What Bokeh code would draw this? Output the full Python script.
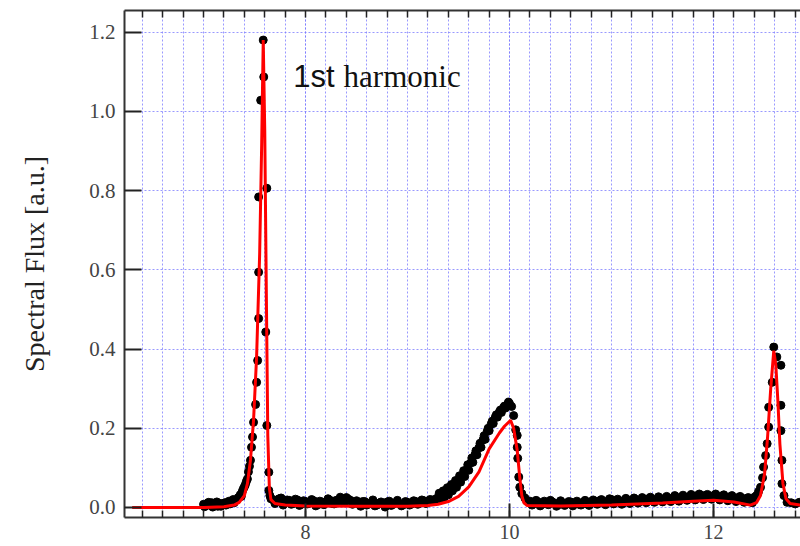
from bokeh.plotting import figure
from bokeh.models import Range1d, LinearAxis, SingleIntervalTicker, FixedTicker, NumeralTickFormatter, Label
from bokeh.embed import file_html
from bokeh.resources import INLINE

# ---- measured data points (black dots) ----
dots_x = [
    7.00, 7.02, 7.04, 7.06, 7.08, 7.10, 7.12, 7.14, 7.16, 7.18, 7.20, 7.22, 7.24, 7.26, 7.28, 7.30,
    7.32, 7.34, 7.36, 7.37, 7.38, 7.39, 7.40, 7.41, 7.42, 7.43, 7.44, 7.45, 7.46, 7.47, 7.48, 7.49,
    7.51, 7.52, 7.53, 7.54, 7.54, 7.54, 7.56, 7.585, 7.59,
    7.62, 7.61, 7.62, 7.64, 7.64, 7.65, 7.66,
    7.68, 7.72, 7.76, 7.80, 7.84, 7.88, 7.92, 7.96, 8.00, 8.04, 8.08, 8.12, 8.16, 8.20, 8.24, 8.28,
    8.32, 8.36, 8.40, 8.44, 8.48, 8.52, 8.56, 8.60, 8.64, 8.68, 8.72, 8.76, 8.80, 8.84, 8.88, 8.92,
    8.96, 9.00, 9.04, 9.08, 9.12, 9.16, 9.20, 9.24, 9.28,
    9.30, 9.32, 9.34, 9.36, 9.38, 9.40, 9.42, 9.44, 9.46, 9.48, 9.50, 9.52, 9.54, 9.56, 9.58, 9.60,
    9.62, 9.64, 9.66, 9.68, 9.70, 9.72, 9.74, 9.76, 9.78, 9.80, 9.82, 9.84, 9.86, 9.88, 9.90, 9.92,
    9.94, 9.96, 9.98, 10.00,
    10.02, 10.04, 10.06, 10.075, 10.075, 10.08, 10.09, 10.10, 10.12, 10.15, 10.17,
    10.20, 10.24, 10.28, 10.32, 10.36, 10.40, 10.44, 10.48, 10.52, 10.56, 10.60, 10.64, 10.68, 10.72,
    10.76, 10.80, 10.84, 10.88, 10.92, 10.96, 11.00, 11.04, 11.08, 11.12, 11.16, 11.20, 11.24, 11.28,
    11.32, 11.36, 11.40, 11.44, 11.48, 11.52, 11.56, 11.60, 11.64, 11.68, 11.72, 11.76, 11.80, 11.84,
    11.88, 11.92, 11.96, 12.00, 12.04, 12.08, 12.12, 12.16, 12.20, 12.24, 12.28, 12.32, 12.36, 12.40,
    12.42, 12.44, 12.46, 12.48, 12.49, 12.51, 12.525, 12.54, 12.54, 12.575, 12.59, 12.62, 12.66, 12.66,
    12.66, 12.67, 12.67, 12.69, 12.72, 12.76, 12.80, 12.84,
]
dots_y = [
    0.008, 0.004, 0.011, 0.006, 0.012, 0.005, 0.009, 0.003, 0.010, 0.007, 0.011, 0.006, 0.013, 0.009, 0.015, 0.012,
    0.019, 0.025, 0.032, 0.028, 0.041, 0.047, 0.052, 0.058, 0.066, 0.072, 0.090, 0.104, 0.119, 0.152, 0.178, 0.215,
    0.260, 0.316, 0.371, 0.477, 0.594, 0.784, 1.028, 1.180, 1.087,
    0.806, 0.443, 0.207, 0.089, 0.043, 0.030, 0.022,
    0.020, 0.016, 0.024, 0.012, 0.018, 0.010, 0.019, 0.008, 0.015, 0.011, 0.017, 0.007, 0.014, 0.012, 0.018, 0.009,
    0.015, 0.020, 0.025, 0.018, 0.013, 0.009, 0.015, 0.006, 0.012, 0.004, 0.011, 0.008, 0.014, 0.005, 0.012, 0.010,
    0.007, 0.013, 0.009, 0.015, 0.011, 0.017, 0.013, 0.019, 0.022,
    0.026, 0.022, 0.029, 0.026, 0.037, 0.032, 0.045, 0.042, 0.055, 0.051, 0.067, 0.064, 0.079, 0.078, 0.095, 0.094,
    0.113, 0.114, 0.133, 0.133, 0.151, 0.152, 0.171, 0.172, 0.192, 0.194, 0.211, 0.212, 0.228, 0.228, 0.241, 0.240,
    0.252, 0.251, 0.260, 0.262,
    0.255, 0.232, 0.196, 0.182, 0.152, 0.124, 0.077, 0.051, 0.035, 0.024, 0.016,
    0.016, 0.010, 0.014, 0.008, 0.013, 0.018, 0.011, 0.007, 0.012, 0.009, 0.014, 0.010, 0.008, 0.013,
    0.009, 0.015, 0.011, 0.017, 0.012, 0.016, 0.020, 0.013, 0.017, 0.012, 0.018, 0.014, 0.020, 0.015,
    0.019, 0.022, 0.016, 0.021, 0.018, 0.023, 0.019, 0.024, 0.020, 0.026, 0.022, 0.027, 0.024, 0.030,
    0.026, 0.031, 0.027, 0.030, 0.026, 0.029, 0.024, 0.027, 0.022, 0.025, 0.020, 0.023, 0.019, 0.026,
    0.030, 0.040, 0.051, 0.075, 0.102, 0.131, 0.161, 0.203, 0.253, 0.316, 0.405, 0.380, 0.359, 0.258,
    0.194, 0.119, 0.060, 0.030, 0.013, 0.012, 0.009, 0.013,
]
# second scan of dots in between (makes the noisy band thicker)
dots2_x = [
    7.01, 7.05, 7.09, 7.13, 7.17, 7.21, 7.25, 7.29,
    7.70, 7.74, 7.78, 7.82, 7.86, 7.90, 7.94, 7.98, 8.02, 8.06, 8.10, 8.14, 8.18, 8.22, 8.26, 8.30,
    8.34, 8.38, 8.42, 8.46, 8.50, 8.54, 8.58, 8.62, 8.66, 8.70, 8.74, 8.78, 8.82, 8.86, 8.90, 8.94,
    8.98, 9.02, 9.06, 9.10, 9.14, 9.18, 9.22, 9.26,
    9.31, 9.35, 9.39, 9.43, 9.47, 9.51, 9.55, 9.59, 9.63, 9.67, 9.71, 9.75, 9.79, 9.83, 9.87, 9.91,
    9.95, 9.99,
    10.22, 10.26, 10.30, 10.34, 10.38, 10.42, 10.46, 10.50, 10.54, 10.58, 10.62, 10.66, 10.70, 10.74,
    10.78, 10.82, 10.86, 10.90, 10.94, 10.98, 11.02, 11.06, 11.10, 11.14, 11.18, 11.22, 11.26, 11.30,
    11.34, 11.38, 11.42, 11.46, 11.50, 11.54, 11.58, 11.62, 11.66, 11.70, 11.74, 11.78, 11.82, 11.86,
    11.90, 11.94, 11.98, 12.02, 12.06, 12.10, 12.14, 12.18, 12.22, 12.26, 12.30, 12.34, 12.38,
]
dots2_y = [
    0.002, 0.013, 0.001, 0.014, 0.003, 0.012, 0.016, 0.020,
    0.010, 0.022, 0.006, 0.019, 0.008, 0.021, 0.005, 0.017, 0.009, 0.020, 0.004, 0.016, 0.007, 0.022, 0.010, 0.018,
    0.026, 0.013, 0.021, 0.008, 0.017, 0.003, 0.015, 0.009, 0.019, 0.006, 0.014, 0.001, 0.016, 0.008, 0.018, 0.004,
    0.015, 0.006, 0.017, 0.008, 0.019, 0.010, 0.020, 0.016,
    0.036, 0.042, 0.050, 0.058, 0.068, 0.080, 0.093, 0.108, 0.125, 0.143, 0.162, 0.181, 0.200, 0.218, 0.234, 0.246,
    0.256, 0.266,
    0.006, 0.018, 0.004, 0.016, 0.007, 0.014, 0.003, 0.017, 0.005, 0.015, 0.004, 0.016, 0.006, 0.018,
    0.005, 0.019, 0.008, 0.020, 0.007, 0.022, 0.009, 0.021, 0.008, 0.023, 0.010, 0.024, 0.011, 0.025,
    0.012, 0.026, 0.013, 0.027, 0.014, 0.028, 0.015, 0.030, 0.016, 0.031, 0.018, 0.033, 0.019, 0.034,
    0.020, 0.033, 0.021, 0.034, 0.019, 0.032, 0.017, 0.030, 0.015, 0.028, 0.013, 0.025, 0.012,
]

# ---- fit curve (red line) ----
fit_x = [
    6.30, 7.00, 7.20, 7.30, 7.35, 7.40, 7.43, 7.46, 7.49, 7.52, 7.55, 7.57, 7.585, 7.60, 7.615, 7.63,
    7.645, 7.66, 7.70, 7.80, 8.00, 8.50, 9.00, 9.20, 9.30, 9.40, 9.50, 9.60, 9.70, 9.80, 9.90, 9.95,
    10.01, 10.04, 10.075, 10.10, 10.12, 10.14, 10.17, 10.50, 11.00, 11.50, 11.80, 12.00, 12.20, 12.36,
    12.42, 12.46, 12.50, 12.53, 12.56, 12.59, 12.61, 12.63, 12.65, 12.68, 12.71, 12.75, 12.85,
]
fit_y = [
    0.000, 0.000, 0.002, 0.006, 0.013, 0.030, 0.060, 0.120, 0.220, 0.380, 0.640, 0.920, 1.180, 0.950, 0.550, 0.180,
    0.050, 0.020, 0.010, 0.006, 0.004, 0.003, 0.003, 0.005, 0.008, 0.015, 0.028, 0.052, 0.090, 0.148, 0.188, 0.205,
    0.220, 0.200, 0.144, 0.075, 0.030, 0.012, 0.005, 0.004, 0.006, 0.011, 0.016, 0.018, 0.014, 0.006,
    0.012, 0.030, 0.085, 0.180, 0.300, 0.396, 0.360, 0.270, 0.160, 0.060, 0.022, 0.010, 0.006,
]

y_label = "Spectral Flux [a.u.]"
annot_a = "1st"
annot_b = "harmonic"

p = figure(width=800, height=546, output_backend="svg", toolbar_location=None, title=None,
           x_range=Range1d(6.225, 12.852), y_range=Range1d(-0.0253, 1.2547),
           min_border_left=124, min_border_right=0, min_border_top=10, min_border_bottom=29)
p.outline_line_color = None
p.background_fill_color = "white"
p.border_fill_color = "white"

xticker = SingleIntervalTicker(interval=2, num_minor_ticks=10)
yticker = SingleIntervalTicker(interval=0.2, num_minor_ticks=0)

grid_col = "#7777ff"
for g in (p.xgrid, p.ygrid):
    g.grid_line_color = grid_col
    g.grid_line_dash = "2 2"
    g.grid_line_alpha = 0.75
    g.grid_line_width = 1
p.xgrid.ticker = xticker
p.ygrid.ticker = yticker
p.xgrid.minor_grid_line_color = grid_col
p.xgrid.minor_grid_line_dash = "2 2"
p.xgrid.minor_grid_line_alpha = 0.75

def style_axis(ax):
    ax.axis_line_color = "#333333"
    ax.axis_line_width = 2
    ax.major_tick_line_color = "#222222"
    ax.minor_tick_line_color = "#222222"
    ax.major_tick_line_width = 2
    ax.minor_tick_line_width = 1.5
    ax.major_tick_out = 0
    ax.minor_tick_out = 0
    ax.major_label_text_font = "Liberation Serif"
    ax.major_label_text_font_size = "20px"
    ax.major_label_text_color = "#444444"

xa = p.xaxis[0]
xa.ticker = xticker
style_axis(xa)
xa.major_tick_in = 14
xa.minor_tick_in = 7
xa.major_label_standoff = 7

ya = p.yaxis[0]
ya.ticker = yticker
style_axis(ya)
ya.major_label_text_font_size = "21px"
ya.major_tick_in = 17
ya.minor_tick_in = 0
ya.major_label_standoff = 9
ya.formatter = NumeralTickFormatter(format="0.0")
ya.axis_label = y_label
ya.axis_label_text_font = "Liberation Serif"
ya.axis_label_text_font_size = "28px"
ya.axis_label_text_font_style = "normal"
ya.axis_label_text_color = "#222222"
ya.axis_label_standoff = 36

# top frame edge: tick marks only, no labels
top_minor = [round(6.4 + 0.2 * i, 1) for i in range(33)]
top = LinearAxis(ticker=FixedTicker(ticks=[], minor_ticks=top_minor))
style_axis(top)
top.minor_tick_in = 7
top.major_label_standoff = 0
p.add_layout(top, "above")

p.scatter(dots_x, dots_y, size=8, marker="circle", fill_color="black", line_color="black")
p.scatter(dots2_x, dots2_y, size=8, marker="circle", fill_color="black", line_color="black")
p.line(fit_x, fit_y, line_color="#ff0000", line_width=3)

p.add_layout(Label(x=7.88, y=1.088, text=annot_a, text_font="Liberation Sans",
                   text_font_size="31px", text_baseline="alphabetic", text_color="#111111"))
p.add_layout(Label(x=8.373, y=1.088, text=annot_b, text_font="Liberation Serif",
                   text_font_size="31px", text_baseline="alphabetic", text_color="#111111"))

open("out.html", "w").write(file_html(p, INLINE))
